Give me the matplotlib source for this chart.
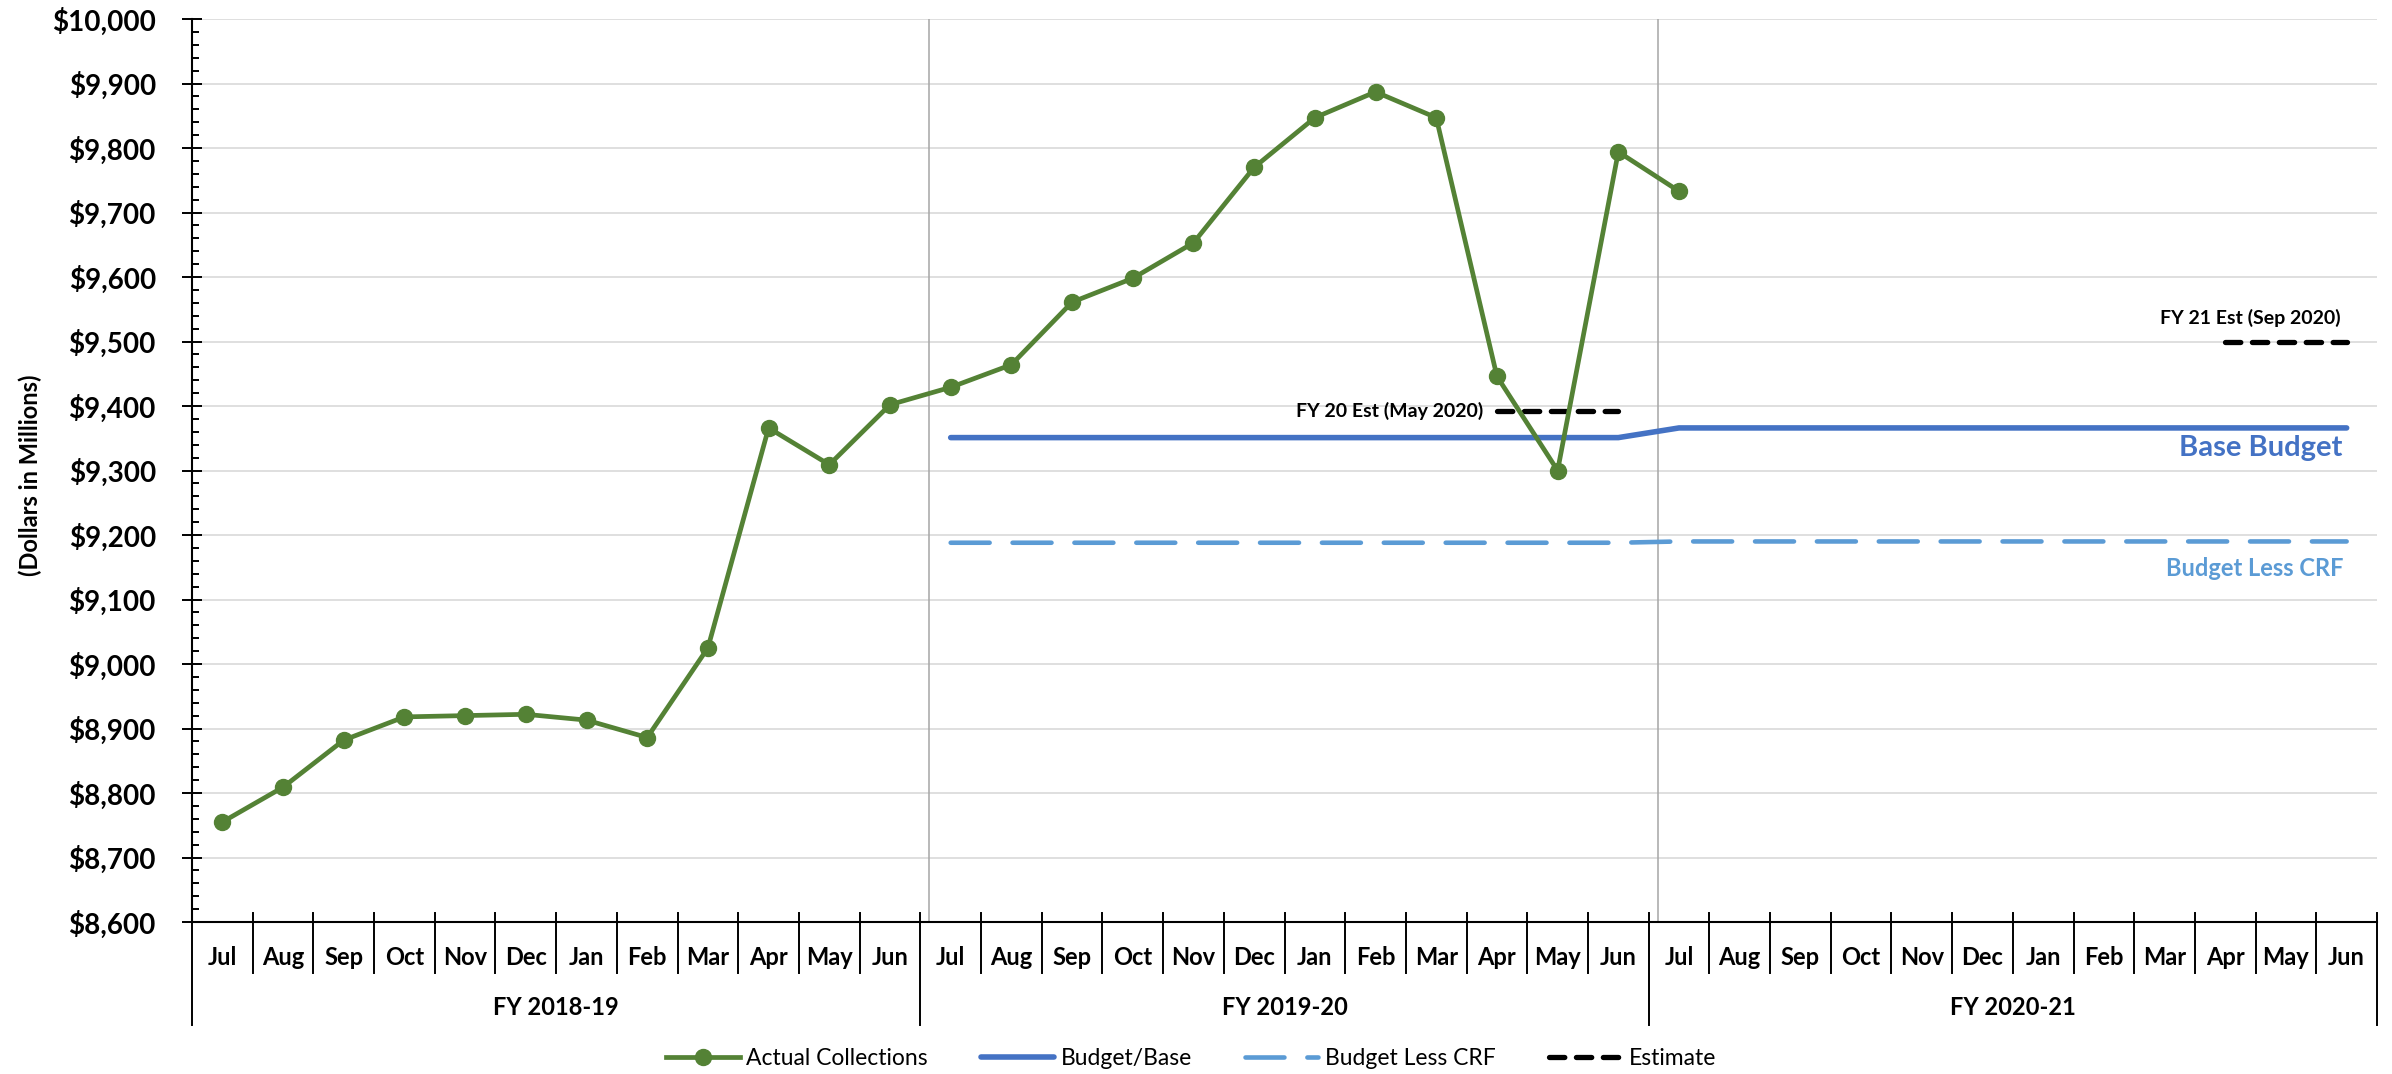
import numpy as np
import matplotlib.pyplot as plt
from matplotlib.transforms import blended_transform_factory
from matplotlib.ticker import MultipleLocator, FuncFormatter

plt.rcParams["font.family"] = ["Lato", "DejaVu Sans"]

# data (millions of dollars)
months = ["Jul", "Aug", "Sep", "Oct", "Nov", "Dec", "Jan", "Feb", "Mar", "Apr", "May", "Jun"]
fiscal_years = ["FY 2018-19", "FY 2019-20", "FY 2020-21"]

actual = [8755, 8809, 8882, 8918, 8920, 8922, 8913, 8886, 9025, 9366, 9309, 9402,
          9429, 9464, 9561, 9598, 9653, 9770, 9847, 9887, 9847, 9446, 9300, 9794,
          9733]
base_fy20 = [9351, 9351, 9351, 9351, 9351, 9351, 9351, 9351, 9351, 9351, 9351, 9351]
base_fy21 = [9366, 9366, 9366, 9366, 9366, 9366, 9366, 9366, 9366, 9366, 9366, 9366]
crf_fy20 = [9188, 9188, 9188, 9188, 9188, 9188, 9188, 9188, 9188, 9188, 9188, 9188]
crf_fy21 = [9190, 9190, 9190, 9190, 9190, 9190, 9190, 9190, 9190, 9190, 9190, 9190]
est_fy20 = [9392, 9392, 9392]   # Apr-Jun 2020
est_fy21 = [9500, 9500, 9500]   # Apr-Jun 2021

green = "#548235"
blue = "#4472C4"
lblue = "#5B9BD5"

n = len(months) * len(fiscal_years)
x = np.arange(n)

fig = plt.figure(figsize=(23.92, 10.74), dpi=100)
ax = fig.add_axes([192 / 2392, 152 / 1074, 2185 / 2392, 903 / 1074])

# budget series span FY19-20 and FY20-21
budget = [np.nan] * 12 + base_fy20 + base_fy21
crf = [np.nan] * 12 + crf_fy20 + crf_fy21
est = [np.nan] * n
est[21:24] = est_fy20
est[33:36] = est_fy21

ax.plot(x, budget, color=blue, lw=4, solid_capstyle="round", label="Budget/Base", zorder=3)
l_crf, = ax.plot(x, crf, color=lblue, lw=3.3, dash_capstyle="round", label="Budget Less CRF", zorder=3)
l_crf.set_dashes([8.5, 5.0])
l_est, = ax.plot(x, est, color="black", lw=3.8, dash_capstyle="round", label="Estimate", zorder=4)
l_est.set_dashes([2.9, 2.2])
ax.plot(x[:len(actual)], actual, color=green, lw=3.4, marker="o", ms=11.5,
        label="Actual Collections", zorder=5)

ax.set_xlim(-0.5, n - 0.5)
ax.set_ylim(8600, 10000)

ax.yaxis.set_major_locator(MultipleLocator(100))
ax.yaxis.set_minor_locator(MultipleLocator(20))
ax.yaxis.set_major_formatter(FuncFormatter(lambda v, p: f"${v:,.0f}"))
ax.tick_params(axis="y", which="major", direction="inout", length=14, width=1.4,
               labelsize=20, pad=19)
ax.tick_params(axis="y", which="minor", direction="in", length=5, width=1.4)
for lab in ax.get_yticklabels():
    lab.set_fontweight("bold")
ax.set_xticks([])

ax.grid(axis="y", which="major", color="#D9D9D9", lw=1.2)
ax.set_axisbelow(True)
for s in ["top", "right"]:
    ax.spines[s].set_visible(False)
ax.spines["left"].set_linewidth(1.5)
ax.spines["bottom"].set_linewidth(1.5)

# gray fiscal-year separators inside the plot
for b in [11.65, 23.65]:
    ax.axvline(b, color="#A6A6A6", lw=1.1, zorder=1)

# two-level category axis
tr = blended_transform_factory(ax.transData, ax.transAxes)
for i in range(n):
    ax.text(i, -0.0388, months[i % 12], transform=tr, ha="center", va="center",
            fontsize=17, fontweight="bold")
for k in range(1, n):
    if k % 12 == 0:
        continue
    ax.plot([k - 0.5, k - 0.5], [0.01, -0.0565], transform=tr, color="black",
            lw=1.4, clip_on=False)
for k in range(0, n + 1, 12):
    ax.plot([k - 0.5, k - 0.5], [0.01, -0.114], transform=tr, color="black",
            lw=1.4, clip_on=False)
for j, fy in enumerate(fiscal_years):
    ax.text(j * 12 + 5.5, -0.0952, fy, transform=tr, ha="center", va="center",
            fontsize=17, fontweight="bold")

# y label drawn as a plain figure text so the bold weight sticks
fig.text(30 / 2392, (1074 - 475) / 1074, "(Dollars in Millions)", rotation=90,
         ha="center", va="center", fontsize=17, fontweight="bold")

# annotations
ax.annotate("FY 20 Est (May 2020)", xy=(21, est_fy20[0]), xytext=(-10, 0),
            textcoords="offset points", ha="right", va="center", fontsize=14, fontweight="bold")
ax.annotate("FY 21 Est (Sep 2020)", xy=(35, est_fy21[-1]), xytext=(-4, 17),
            textcoords="offset points", ha="right", va="center", fontsize=14, fontweight="bold")
ax.annotate("Base Budget", xy=(35, base_fy21[-1]), xytext=(-3, -14.5),
            textcoords="offset points", ha="right", va="center", fontsize=21,
            fontweight="bold", color=blue)
ax.annotate("Budget Less CRF", xy=(35, crf_fy21[-1]), xytext=(-2, -19.5),
            textcoords="offset points", ha="right", va="center", fontsize=17,
            fontweight="bold", color=lblue)

handles, labels = ax.get_legend_handles_labels()
order = [3, 0, 1, 2]
fig.legend([handles[i] for i in order], [labels[i] for i in order],
           loc="center", bbox_to_anchor=(0.498, 0.014), ncol=4, frameon=False,
           fontsize=16.5, handlelength=3.2, handletextpad=0.3, columnspacing=2.3)

fig.savefig("out.png", dpi=100)
